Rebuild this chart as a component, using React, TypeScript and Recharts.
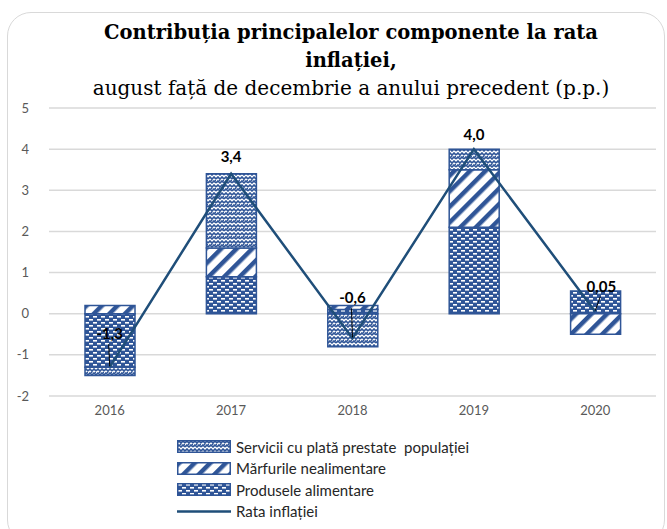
import {
  ComposedChart,
  Bar,
  Line,
  XAxis,
  YAxis,
  CartesianGrid,
  LabelList,
} from 'recharts';

const years = ['2016', '2017', '2018', '2019', '2020'];
const produse = [-1.3, 0.9, 0.1, 2.1, 0.55];
const marfuri = [0.2, 0.7, 0.1, 1.4, -0.5];
const servicii = [-0.2, 1.8, -0.8, 0.5, 0];
const rata = [-1.3, 3.4, -0.6, 4.0, 0.05];
const rataLabels = ['-1,3', '3,4', '-0,6', '4,0', '0,05'];
const yTicks = [-2, -1, 0, 1, 2, 3, 4, 5];

const seriesNames = {
  servicii: 'Servicii cu plată prestate  populației',
  marfuri: 'Mărfurile nealimentare',
  produse: 'Produsele alimentare',
  rata: 'Rata inflației',
};

const data = years.map((year, i) => ({
  year,
  produse: produse[i],
  marfuri: marfuri[i],
  servicii: servicii[i],
  rata: rata[i],
}));

const BLUE = '#2f5597';
const LINE_BLUE = '#1f4e79';
const AXIS_FONT = 'Lato, "Open Sans", sans-serif';

// label offsets from the point: dx, dy, draw a leader line
const labelPos: [number, number, boolean][] = [
  [0, -34, true],
  [0, -18, false],
  [0, -41, true],
  [0, -15, false],
  [6, -26, true],
];

function RateLabel(props: any) {
  const { x, y, index } = props;
  const [dx, dy, leader] = labelPos[index];
  const lx = x + dx;
  const ly = y + dy;
  return (
    <g>
      {leader && (
        <line
          x1={lx - 1}
          y1={ly + 11}
          x2={x}
          y2={y - 1}
          stroke="#000"
          strokeWidth={1}
        />
      )}
      <text
        x={lx}
        y={ly}
        textAnchor="middle"
        dominantBaseline="central"
        fontFamily={AXIS_FONT}
        fontWeight="bold"
        fontSize={15}
        fill="#000"
      >
        {rataLabels[index]}
      </text>
    </g>
  );
}

function Patterns() {
  return (
    <defs>
      <pattern id="pProduse" width="8" height="6" patternUnits="userSpaceOnUse">
        <rect width="8" height="6" fill={BLUE} />
        <rect x="1" y="1" width="4" height="1.6" fill="#fff" />
        <rect x="5" y="4" width="4" height="1.6" fill="#fff" />
        <rect x="-3" y="4" width="4" height="1.6" fill="#fff" />
      </pattern>
      <pattern
        id="pMarfuri"
        width="11"
        height="11"
        patternUnits="userSpaceOnUse"
        patternTransform="rotate(45)"
      >
        <rect width="11" height="11" fill="#fff" />
        <rect width="4.5" height="11" fill={BLUE} />
      </pattern>
      <pattern id="pServicii" width="8" height="8" patternUnits="userSpaceOnUse">
        <rect width="8" height="8" fill="#fff" />
        <path
          d="M0 3 L2 1 L4 3 L6 1 L8 3 M0 7 L2 5 L4 7 L6 5 L8 7"
          stroke={BLUE}
          strokeWidth="1.6"
          fill="none"
        />
        <rect x="3" y="3.6" width="1.4" height="1.4" fill={BLUE} />
        <rect x="7" y="3.6" width="1.4" height="1.4" fill={BLUE} />
      </pattern>
    </defs>
  );
}

function LegendIcon({ fill }: { fill: string }) {
  return (
    <svg width={54} height={13} style={{ display: 'block' }}>
      <Patterns />
      <rect x={0.75} y={0.75} width={52.5} height={11.5} fill={fill} stroke={BLUE} strokeWidth={1.5} />
    </svg>
  );
}

export default function App() {
  const legendRows = [
    { name: seriesNames.servicii, fill: 'url(#pServicii)' },
    { name: seriesNames.marfuri, fill: 'url(#pMarfuri)' },
    { name: seriesNames.produse, fill: 'url(#pProduse)' },
  ];

  return (
    <div
      style={{
        position: 'fixed',
        left: 0,
        top: 0,
        width: 667,
        height: 529,
        background: '#fff',
        overflow: 'hidden',
      }}
    >
      <div
        style={{
          position: 'absolute',
          left: 7,
          top: 12,
          width: 656,
          height: 530,
          border: '1.5px solid #d9d9d9',
          borderRadius: 24,
        }}
      />
      <div
        style={{
          position: 'absolute',
          left: 0,
          width: 702,
          top: 19,
          textAlign: 'center',
          fontFamily: '"DejaVu Serif", serif',
          color: '#000',
        }}
      >
        <div style={{ fontWeight: 'bold', fontSize: 19.5, lineHeight: '28px' }}>
          Contribuția principalelor componente la rata
        </div>
        <div style={{ fontWeight: 'bold', fontSize: 19.5, lineHeight: '27px' }}>inflației,</div>
        <div style={{ fontSize: 20, lineHeight: '28px' }}>
          august față de decembrie a anului precedent (p.p.)
        </div>
      </div>

      <ComposedChart
        width={667}
        height={529}
        data={data}
        stackOffset="sign"
        margin={{ top: 108, right: 11, left: 9, bottom: 103 }}
        style={{ position: 'absolute', left: 0, top: 0 }}
      >
        <Patterns />
        <CartesianGrid vertical={false} stroke="#d9d9d9" strokeWidth={1.5} />
        <XAxis
          dataKey="year"
          height={30}
          axisLine={false}
          tickLine={false}
          tickMargin={4}
          tick={{ fill: '#595959', fontSize: 13, fontFamily: AXIS_FONT }}
        />
        <YAxis
          width={40}
          domain={[-2, 5]}
          ticks={yTicks}
          axisLine={false}
          tickLine={false}
          tickMargin={14}
          tick={{ fill: '#595959', fontSize: 13, fontFamily: AXIS_FONT }}
        />
        <Bar
          dataKey="produse"
          name={seriesNames.produse}
          stackId="a"
          barSize={50}
          fill="url(#pProduse)"
          stroke={BLUE}
          strokeWidth={1.5}
          isAnimationActive={false}
        />
        <Bar
          dataKey="marfuri"
          name={seriesNames.marfuri}
          stackId="a"
          barSize={50}
          fill="url(#pMarfuri)"
          stroke={BLUE}
          strokeWidth={1.5}
          isAnimationActive={false}
        />
        <Bar
          dataKey="servicii"
          name={seriesNames.servicii}
          stackId="a"
          barSize={50}
          fill="url(#pServicii)"
          stroke={BLUE}
          strokeWidth={1.5}
          isAnimationActive={false}
        />
        <Line
          dataKey="rata"
          name={seriesNames.rata}
          type="linear"
          stroke={LINE_BLUE}
          strokeWidth={2.5}
          dot={false}
          activeDot={false}
          isAnimationActive={false}
        >
          <LabelList dataKey="rata" content={RateLabel} />
        </Line>
      </ComposedChart>

      <div
        style={{
          position: 'absolute',
          left: 177,
          top: 436,
          fontFamily: AXIS_FONT,
          fontSize: 15,
          color: '#262626',
        }}
      >
        {legendRows.map((row) => (
          <div
            key={row.name}
            style={{ display: 'flex', alignItems: 'center', height: 21.5, whiteSpace: 'pre' }}
          >
            <LegendIcon fill={row.fill} />
            <span style={{ marginLeft: 5 }}>{row.name}</span>
          </div>
        ))}
        <div style={{ display: 'flex', alignItems: 'center', height: 21.5 }}>
          <svg width={54} height={13} style={{ display: 'block' }}>
            <line x1={0} y1={6.5} x2={54} y2={6.5} stroke={LINE_BLUE} strokeWidth={2.5} />
          </svg>
          <span style={{ marginLeft: 5 }}>{seriesNames.rata}</span>
        </div>
      </div>
    </div>
  );
}
